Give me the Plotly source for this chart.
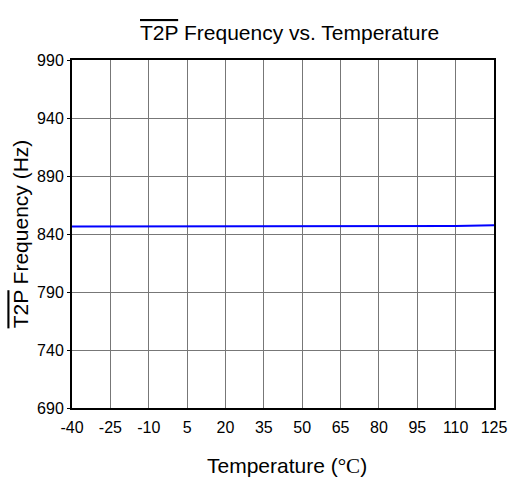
import plotly.graph_objects as go

temps = [-40, -25, -10, 5, 20, 35, 50, 65, 80, 95, 110, 125]
freq = [846.5, 846.5, 846.5, 846.5, 846.5, 846.5, 846.5, 846.5, 846.5, 846.6, 846.8, 847.5]
x_ticks = [-40, -25, -10, 5, 20, 35, 50, 65, 80, 95, 110, 125]
y_ticks = [690, 740, 790, 840, 890, 940, 990]

W, H = 519, 481
L, R, T, B = 72, 497, 60, 408

fig = go.Figure()
fig.add_trace(go.Scatter(x=temps, y=freq, mode="lines",
                         line=dict(color="#0000ff", width=2), showlegend=False))

font = "Liberation Sans, Arial, sans-serif"
fig.update_layout(
    width=W, height=H,
    margin=dict(l=L, r=W - R, t=T, b=H - B),
    paper_bgcolor="white", plot_bgcolor="white",
    font=dict(family=font, color="black"),
    xaxis=dict(range=[-40, 125], tickvals=x_ticks, ticktext=[str(v) for v in x_ticks],
               showgrid=True, gridcolor="#777777", gridwidth=1,
               showline=True, linecolor="black", linewidth=2, mirror=True,
               ticks="outside", ticklen=4, tickcolor="rgba(0,0,0,0)",
               tickfont=dict(size=16, family=font, color="black"), zeroline=False),
    yaxis=dict(range=[690, 990], tickvals=y_ticks,
               showgrid=True, gridcolor="#777777", gridwidth=1,
               showline=True, linecolor="black", linewidth=2, mirror=True,
               ticks="outside", ticklen=3, tickcolor="black",
               tickfont=dict(size=16, family=font, color="black"), zeroline=False),
    annotations=[
        dict(text='<span style="text-decoration:overline">T2P</span> Frequency vs. Temperature',
             xref="paper", yref="paper", x=(291 - L) / (R - L), y=1 + (T - 33) / (B - T),
             xanchor="center", yanchor="middle", showarrow=False,
             font=dict(size=21, family=font, color="black")),
        dict(text='<span style="text-decoration:overline">T2P</span> Frequency (Hz)',
             xref="paper", yref="paper", x=-(L - 20) / (R - L), y=0.5, textangle=-90,
             xanchor="center", yanchor="middle", showarrow=False,
             font=dict(size=21, family=font, color="black")),
        dict(text='Temperature (<span style="font-family:Liberation Serif, serif">°C</span>)',
             xref="paper", yref="paper", x=(289 - L) / (R - L), y=-(466 - B) / (B - T),
             xanchor="center", yanchor="middle", showarrow=False,
             font=dict(size=21, family=font, color="black")),
    ],
)
fig.write_html("out.html")
